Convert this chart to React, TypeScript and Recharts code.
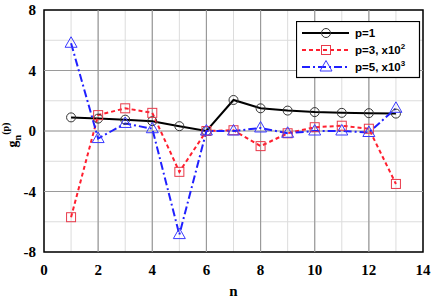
import React from "react";
import {
  LineChart,
  Line,
  XAxis,
  YAxis,
  CartesianGrid,
  ReferenceArea,
  ReferenceLine,
} from "recharts";

const nValues = [1, 2, 3, 4, 5, 6, 7, 8, 9, 10, 11, 12, 13];
const p1 = [0.9, 0.82, 0.75, 0.65, 0.32, 0, 2.05, 1.5, 1.35, 1.25, 1.2, 1.18, 1.15];
const p3 = [-5.7, 1.05, 1.5, 1.2, -2.7, 0, 0.05, -1.0, -0.15, 0.25, 0.35, 0.15, -3.5];
const p5 = [5.8, -0.5, 0.5, 0.15, -6.85, 0, 0, 0.2, -0.15, 0, 0, -0.1, 1.5];

const xTicks = [0, 2, 4, 6, 8, 10, 12, 14];
const yTicks = [-8, -4, 0, 4, 8];
const xMinor = Array.from({ length: 57 }, (_, i) => i * 0.25);
const yMinor = Array.from({ length: 33 }, (_, i) => -8 + i * 0.5);

const data = nValues.map((n, i) => ({ n, p1: p1[i], p3: p3[i], p5: p5[i] }));

const BLACK = "#000000";
const RED = "#ff1f2f";
const BLUE = "#2020ff";

const serif = "'Liberation Serif', 'DejaVu Serif', serif";
const sans = "'Liberation Sans', Arial, sans-serif";

const Circle = ({ cx, cy }: any) => (
  <circle cx={cx} cy={cy} r={4.5} fill="none" stroke="#333" strokeWidth={1} />
);
const Square = ({ cx, cy, color = "#e83a4a" }: any) => (
  <rect x={cx - 4.5} y={cy - 4.5} width={9} height={9} fill="none" stroke={color} strokeWidth={1} />
);
const Triangle = ({ cx, cy, color = "#3a3aff" }: any) => (
  <polygon
    points={`${cx},${cy - 6.5} ${cx - 6},${cy + 4} ${cx + 6},${cy + 4}`}
    fill="none"
    stroke={color}
    strokeWidth={1}
  />
);

const legendRows = [
  { label: "p=1", sup: "", color: BLACK, dash: undefined, marker: "circle" },
  { label: "p=3, x10", sup: "2", color: RED, dash: "4 3", marker: "square" },
  { label: "p=5, x10", sup: "3", color: BLUE, dash: "8 3 2 3", marker: "triangle" },
];

const LegendBox = () => (
  <svg width={125} height={58} style={{ display: "block" }}>
    <rect x={0.5} y={0.5} width={123} height={56} fill="#fff" stroke="#000" strokeWidth={1.2} />
    {legendRows.map((r, i) => {
      const y = 12 + i * 17;
      return (
        <g key={r.label + i}>
          <line x1={6} x2={53} y1={y} y2={y} stroke={r.color} strokeWidth={2} strokeDasharray={r.dash} />
          {r.marker === "circle" && <Circle cx={30} cy={y} />}
          {r.marker === "square" && <Square cx={30} cy={y} />}
          {r.marker === "triangle" && <Triangle cx={30} cy={y} />}
          <text x={59} y={y + 4} fontFamily={sans} fontWeight="bold" fontSize={11.5} fill="#000">
            {r.label}
            {r.sup && (
              <tspan dy={-5} fontSize={8}>
                {r.sup}
              </tspan>
            )}
          </text>
        </g>
      );
    })}
  </svg>
);

export default function App() {
  return (
    <div style={{ position: "absolute", left: 0, top: 0, width: 436, height: 298, background: "#fff" }}>
      <LineChart width={436} height={298} data={data} margin={{ top: 10, right: 13, bottom: 0, left: 0 }}>
        <CartesianGrid stroke="#dcdcdc" strokeWidth={1} verticalValues={xMinor} horizontalValues={yMinor} />
        {xTicks.slice(1, -1).map((t) => (
          <ReferenceLine key={`vx${t}`} x={t} stroke="#9a9a9a" strokeWidth={1.2} />
        ))}
        {yTicks.slice(1, -1).map((t) => (
          <ReferenceLine key={`hy${t}`} y={t} stroke="#9a9a9a" strokeWidth={1.2} />
        ))}
        <XAxis
          dataKey="n"
          type="number"
          domain={[0, 14]}
          ticks={xTicks}
          height={46}
          axisLine={false}
          tickLine={false}
          tick={{ fontFamily: serif, fontWeight: "bold", fontSize: 15, fill: "#000" }}
          tickMargin={6}
          label={{
            value: "n",
            position: "insideBottom",
            offset: 2,
            style: { fontFamily: serif, fontWeight: "bold", fontSize: 15, fill: "#000" },
          }}
        />
        <YAxis
          type="number"
          domain={[-8, 8]}
          ticks={yTicks}
          width={44}
          axisLine={false}
          tickLine={false}
          tickMargin={2}
          tick={{ fontFamily: serif, fontWeight: "bold", fontSize: 15, fill: "#000" }}
          label={() => {
            const cx = 17;
            const cy = 135;
            return (
              <text
                x={cx}
                y={cy}
                transform={`rotate(-90, ${cx}, ${cy})`}
                textAnchor="middle"
                fontFamily={serif}
                fontWeight="bold"
                fontSize={14}
                fill="#000"
              >
                g
                <tspan dy={4} fontSize={10}>
                  n
                </tspan>
                <tspan dy={-12} fontSize={10}>
                  (p)
                </tspan>
              </text>
            );
          }}
        />
        <ReferenceArea x1={0} x2={14} y1={-8} y2={8} fill="none" stroke="#000" strokeWidth={1.5} />
        <Line
          dataKey="p1"
          stroke={BLACK}
          strokeWidth={2}
          isAnimationActive={false}
          dot={(props: any) => <Circle key={`c${props.index}`} cx={props.cx} cy={props.cy} />}
        />
        <Line
          dataKey="p3"
          stroke={RED}
          strokeWidth={2}
          strokeDasharray="4 3"
          isAnimationActive={false}
          dot={(props: any) => <Square key={`s${props.index}`} cx={props.cx} cy={props.cy} />}
        />
        <Line
          dataKey="p5"
          stroke={BLUE}
          strokeWidth={2}
          strokeDasharray="8 3 2 3"
          isAnimationActive={false}
          dot={(props: any) => <Triangle key={`t${props.index}`} cx={props.cx} cy={props.cy} />}
        />
      </LineChart>
      <div style={{ position: "absolute", left: 296, top: 21 }}>
        <LegendBox />
      </div>
    </div>
  );
}
